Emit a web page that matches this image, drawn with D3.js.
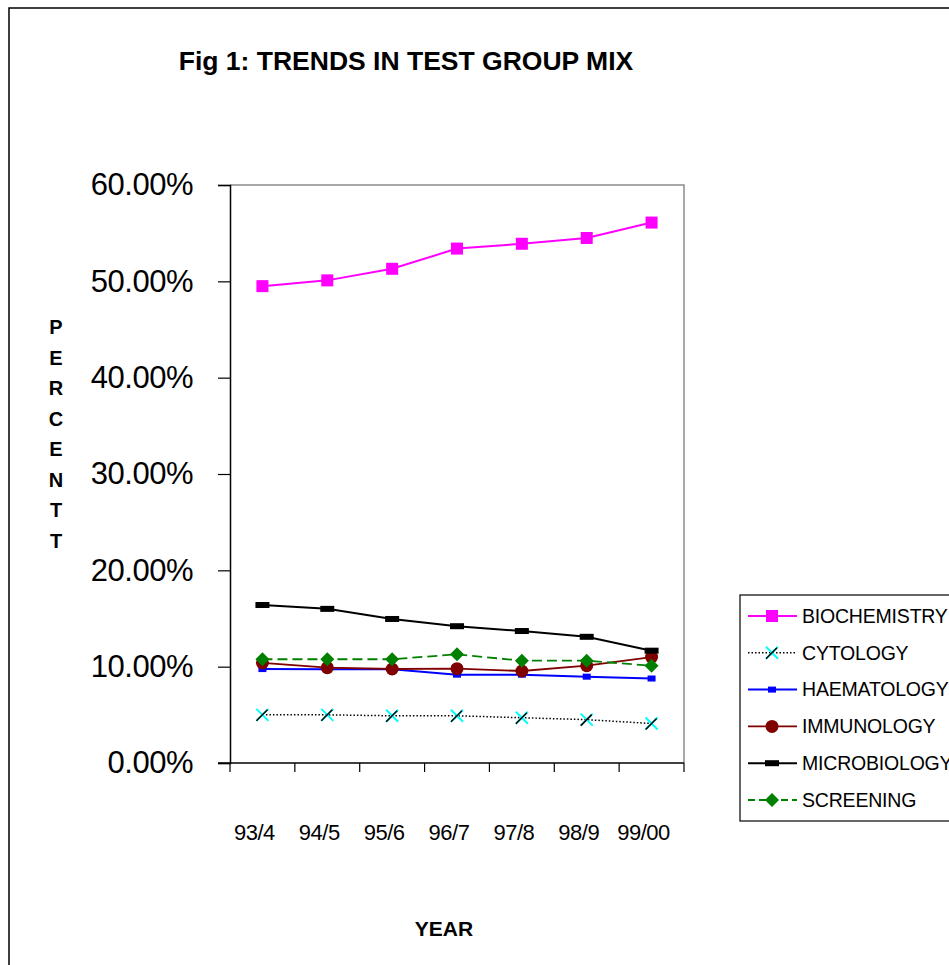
<!DOCTYPE html>
<html>
<head>
<meta charset="utf-8">
<script src="https://cdn.jsdelivr.net/npm/d3@7"></script>
<style>
  body { margin: 0; background: #fff; }
  svg { font-family: "Liberation Sans", Arial, sans-serif; }
</style>
</head>
<body>
<svg id="chart" width="949" height="965"></svg>
<script>
var years = ["93/4", "94/5", "95/6", "96/7", "97/8", "98/9", "99/00"];
var biochemistry = [0.495, 0.501, 0.513, 0.534, 0.539, 0.545, 0.561];
var cytology = [0.050, 0.050, 0.049, 0.049, 0.047, 0.045, 0.041];
var haematology = [0.0975, 0.0973, 0.0973, 0.0917, 0.0917, 0.0896, 0.0877];
var immunology = [0.104, 0.099, 0.0976, 0.0979, 0.0955, 0.101, 0.110];
var microbiology = [0.164, 0.160, 0.1495, 0.142, 0.137, 0.131, 0.1166];
var screening = [0.1077, 0.1077, 0.1077, 0.1128, 0.1062, 0.1062, 0.101];
var yTicks = [0, 0.1, 0.2, 0.3, 0.4, 0.5, 0.6];

var series = [
  {name: "BIOCHEMISTRY", values: biochemistry, color: "#ff00ff", width: 2, dash: null, marker: "square"},
  {name: "CYTOLOGY", values: cytology, color: "#000000", width: 1.5, dash: "1.5,2", marker: "star"},
  {name: "HAEMATOLOGY", values: haematology, color: "#0000ff", width: 2, dash: null, marker: "small"},
  {name: "IMMUNOLOGY", values: immunology, color: "#800000", width: 1.8, dash: null, marker: "circle"},
  {name: "MICROBIOLOGY", values: microbiology, color: "#000000", width: 2, dash: null, marker: "dash"},
  {name: "SCREENING", values: screening, color: "#008000", width: 1.8, dash: "10,5", marker: "diamond"}
];

var svg = d3.select("#chart"),
    plot = {left: 230, right: 684, top: 185, bottom: 763};

var x = d3.scaleBand().domain(years).range([plot.left, plot.right]),
    y = d3.scaleLinear().domain([0, 0.6]).range([plot.bottom, plot.top]);

// outer frame
svg.append("rect")
    .attr("x", 9).attr("y", 8)
    .attr("width", 960).attr("height", 980)
    .attr("fill", "none").attr("stroke", "#000").attr("stroke-width", 1.5);

svg.append("text")
    .attr("x", 406).attr("y", 70)
    .attr("text-anchor", "middle")
    .style("font-size", "26.5px").style("font-weight", "bold")
    .text("Fig 1: TRENDS IN TEST GROUP MIX");

// plot area border (top/right grey)
svg.append("path")
    .attr("d", "M" + plot.left + "," + plot.top + "H" + plot.right + "V" + plot.bottom)
    .attr("fill", "none").attr("stroke", "#8c8c8c").attr("stroke-width", 1.5);

var yAxis = svg.append("g")
    .attr("transform", "translate(" + plot.left + ",0)")
    .call(d3.axisLeft(y).tickValues(yTicks).tickFormat(d3.format(".2%")).tickSize(12).tickPadding(25));
yAxis.select(".domain").attr("stroke-width", 1.5);
yAxis.selectAll(".tick line").attr("stroke-width", 1.2);
yAxis.selectAll("text")
    .style("font-size", "31px").style("letter-spacing", "-0.5px")
    .attr("fill", "#000").attr("font-family", null);

// x axis: line, boundary ticks, labels
var xg = svg.append("g");
xg.append("line")
    .attr("x1", plot.left - 12).attr("x2", plot.right)
    .attr("y1", plot.bottom).attr("y2", plot.bottom)
    .attr("stroke", "#000").attr("stroke-width", 1.5);
xg.selectAll(".xtick")
    .data(years.concat([null]))
    .enter().append("line")
    .attr("x1", function(d, i) { return plot.left + i * x.step(); })
    .attr("x2", function(d, i) { return plot.left + i * x.step(); })
    .attr("y1", plot.bottom).attr("y2", plot.bottom + 9)
    .attr("stroke", "#000").attr("stroke-width", 1.2);
xg.selectAll(".xlabel")
    .data(years)
    .enter().append("text")
    .attr("x", function(d) { return x(d) + x.bandwidth() / 2 - 8; })
    .attr("y", 840)
    .attr("text-anchor", "middle")
    .style("font-size", "22px").style("letter-spacing", "-0.5px")
    .text(function(d) { return d; });

// axis titles
svg.append("text")
    .attr("x", 444).attr("y", 936)
    .attr("text-anchor", "middle")
    .style("font-size", "21px").style("font-weight", "bold")
    .text("YEAR");

svg.append("g").selectAll("text")
    .data("PERCENTT".split(""))
    .enter().append("text")
    .attr("x", 56)
    .attr("y", function(d, i) { return 334 + i * 30.5; })
    .attr("text-anchor", "middle")
    .style("font-size", "20px").style("font-weight", "bold")
    .text(function(d) { return d; });

function drawMarker(g, type, color) {
  if (type === "square") {
    g.append("rect").attr("x", -6).attr("y", -6).attr("width", 12).attr("height", 12).attr("fill", "#ff00ff");
  } else if (type === "small") {
    g.append("rect").attr("x", -4).attr("y", -3).attr("width", 8).attr("height", 6).attr("fill", "#0000ff");
  } else if (type === "circle") {
    g.append("circle").attr("r", 6.5).attr("fill", "#800000");
  } else if (type === "dash") {
    g.append("rect").attr("x", -7).attr("y", -3).attr("width", 14).attr("height", 6).attr("fill", "#000");
  } else if (type === "diamond") {
    g.append("path").attr("d", "M0,-7L7,0L0,7L-7,0Z").attr("fill", "#008000");
  } else if (type === "star") {
    g.append("path").attr("d", "M-6,-6L6,6M-6,6L6,-6").attr("stroke", "#00ffff").attr("stroke-width", 2);
    g.append("path").attr("d", "M-6,6L5,-5").attr("stroke", "#000").attr("stroke-width", 1.5);
  }
}

var line = d3.line()
    .x(function(d, i) { return x(years[i]) + x.bandwidth() / 2; })
    .y(function(d) { return y(d); });

var layer = svg.selectAll(".series")
    .data(series)
    .enter().append("g")
    .attr("class", "series");

layer.append("path")
    .attr("d", function(d) { return line(d.values); })
    .attr("fill", "none")
    .attr("stroke", function(d) { return d.color; })
    .attr("stroke-width", function(d) { return d.width; })
    .attr("stroke-dasharray", function(d) { return d.dash; });

layer.each(function(s) {
  d3.select(this).selectAll(".marker")
      .data(s.values)
      .enter().append("g")
      .attr("transform", function(d, i) { return "translate(" + (x(years[i]) + x.bandwidth() / 2) + "," + y(d) + ")"; })
      .each(function() { drawMarker(d3.select(this), s.marker, s.color); });
});

// legend
var legend = svg.append("g");
legend.append("rect")
    .attr("x", 740).attr("y", 595)
    .attr("width", 240).attr("height", 226)
    .attr("fill", "#fff").attr("stroke", "#000").attr("stroke-width", 1.2);

var item = legend.selectAll(".item")
    .data(series)
    .enter().append("g")
    .attr("transform", function(d, i) { return "translate(0," + (616 + i * 36.8) + ")"; });

item.append("line")
    .attr("x1", 748).attr("x2", 797)
    .attr("stroke", function(d) { return d.color; })
    .attr("stroke-width", function(d) { return d.width; })
    .attr("stroke-dasharray", function(d) { return d.dash === "10,5" ? "7,4" : d.dash; });

item.append("g")
    .attr("transform", "translate(772,0)")
    .each(function(d) { drawMarker(d3.select(this), d.marker, d.color); });

item.append("text")
    .attr("x", 802).attr("dy", "0.35em")
    .style("font-size", "19.5px").style("letter-spacing", "-0.2px")
    .text(function(d) { return d.name; });
</script>
</body>
</html>
